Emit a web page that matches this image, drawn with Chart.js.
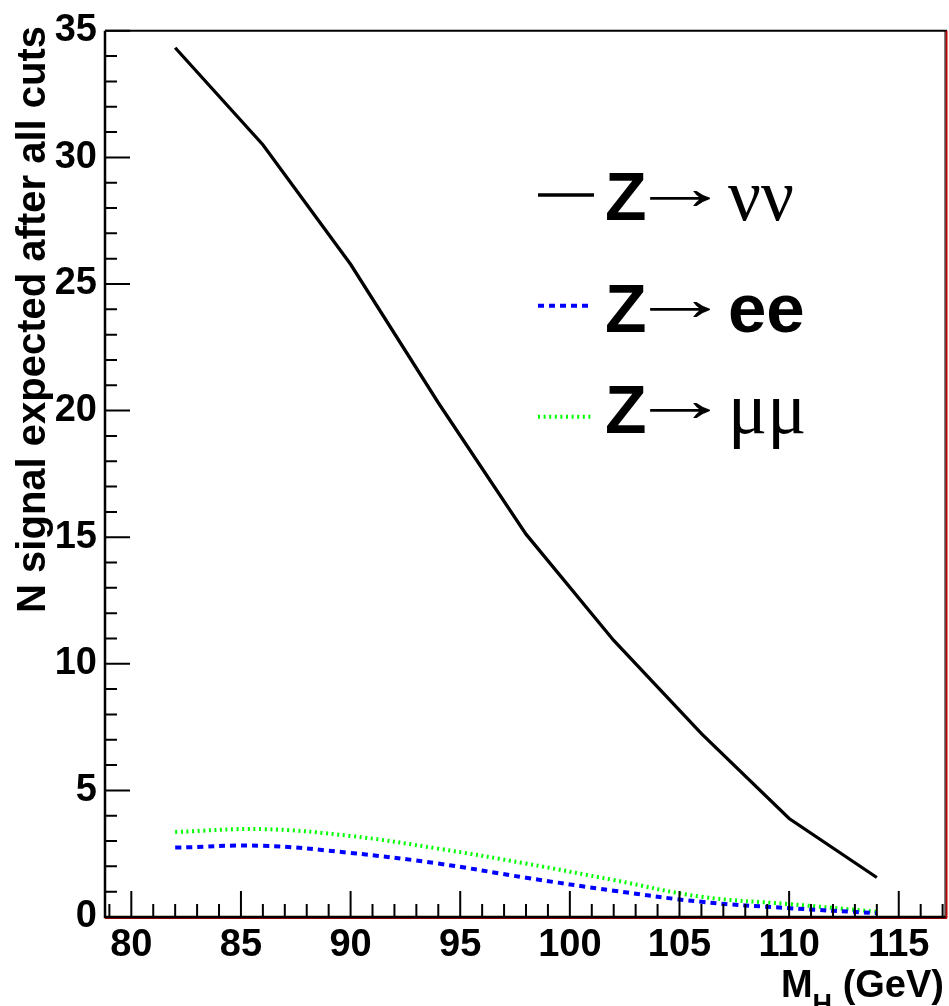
<!DOCTYPE html>
<html>
<head>
<meta charset="utf-8">
<script src="https://cdn.jsdelivr.net/npm/chart.js@4.4.0/dist/chart.umd.min.js"></script>
<style>
  html, body { margin: 0; padding: 0; background: #fff; }
  #wrap { width: 949px; height: 1006px; }
</style>
</head>
<body>
<div id="wrap"><canvas id="c" width="949" height="1006"></canvas></div>
<script>
// Higgs mass points (GeV)
const massPoints = [82, 86, 90, 94, 98, 102, 106, 110, 114];
// expected signal after all cuts
const nuNuVals = [34.33, 30.5, 25.78, 20.31, 15.12, 10.92, 7.24, 3.89, 1.56];
const eeVals   = [2.74, 2.81, 2.53, 2.11, 1.55, 1.04, 0.60, 0.35, 0.15];
const muMuVals = [3.36, 3.47, 3.20, 2.70, 2.11, 1.46, 0.80, 0.51, 0.21];

const xMin = 78.8, xMax = 117.2;
const yMin = 0, yMax = 35;

const legendDecays = ['νν', 'ee', 'μμ'];
const yTitle = 'N signal expected after all cuts';

const SANS = '"Liberation Sans", Arial, Helvetica, sans-serif';
const SERIF = '"Liberation Serif", "Times New Roman", serif';

function toPoints(vals) {
    return massPoints.map((m, i) => ({ x: m, y: vals[i] }));
}

function intTicks(scale) {
    const t = [];
    for (let v = Math.ceil(scale.min); v <= Math.floor(scale.max); v++) t.push({ value: v });
    scale.ticks = t;
}

// draws a glyph so that its ink box spans x0..x0+width, centred on cy
function fitGlyph(ctx, txt, x0, width, cy) {
    const m = ctx.measureText(txt);
    const inkW = m.actualBoundingBoxLeft + m.actualBoundingBoxRight;
    const mid = (m.actualBoundingBoxAscent - m.actualBoundingBoxDescent) / 2;
    ctx.save();
    ctx.translate(x0, cy);
    ctx.scale(width / inkW, 1);
    ctx.textAlign = 'left';
    ctx.textBaseline = 'alphabetic';
    ctx.fillText(txt, m.actualBoundingBoxLeft, mid);
    ctx.restore();
}

const rootFrame = {
    id: 'rootFrame',
    afterDraw(chart) {
        const ctx = chart.ctx;
        const a = chart.chartArea;
        const xs = chart.scales.x, ys = chart.scales.y;
        ctx.save();

        // frame
        ctx.lineWidth = 2;
        ctx.strokeStyle = '#000';
        ctx.beginPath();
        ctx.moveTo(a.left, a.top); ctx.lineTo(a.right, a.top);
        ctx.stroke();
        ctx.strokeStyle = '#c00000';
        ctx.beginPath();
        ctx.moveTo(a.right - 0.5, a.top); ctx.lineTo(a.right - 0.5, a.bottom + 1);
        ctx.moveTo(a.left, a.bottom + 1); ctx.lineTo(a.right, a.bottom + 1);
        ctx.stroke();
        ctx.strokeStyle = '#000';
        ctx.lineWidth = 1;
        ctx.beginPath();
        ctx.moveTo(a.right - 2, a.top); ctx.lineTo(a.right - 2, a.bottom);
        ctx.stroke();
        ctx.lineWidth = 2.5;
        ctx.beginPath();
        ctx.moveTo(a.left, a.top); ctx.lineTo(a.left, a.bottom);
        ctx.lineTo(a.right - 1.5, a.bottom);
        ctx.stroke();

        // inward ticks
        ctx.lineWidth = 2;
        ctx.beginPath();
        xs.ticks.forEach(t => {
            const px = xs.getPixelForValue(t.value);
            const len = t.value % 5 === 0 ? 26 : 13;
            ctx.moveTo(px, a.bottom); ctx.lineTo(px, a.bottom - len);
        });
        ys.ticks.forEach(t => {
            const py = ys.getPixelForValue(t.value);
            const len = t.value % 5 === 0 ? 25 : 12;
            ctx.moveTo(a.left, py); ctx.lineTo(a.left + len, py);
        });
        ctx.stroke();

        // y title (rotated, right aligned at top)
        ctx.fillStyle = '#000';
        ctx.font = 'bold 40px ' + SANS;
        ctx.save();
        ctx.translate(45, 26);
        ctx.rotate(-Math.PI / 2);
        ctx.textAlign = 'right';
        ctx.textBaseline = 'alphabetic';
        ctx.fillText(yTitle, 0, 0);
        ctx.restore();

        // x title  M_H (GeV), right aligned
        ctx.textBaseline = 'alphabetic';
        ctx.textAlign = 'left';
        const main = 'bold 38px ' + SANS, sub = 'bold 27px ' + SANS;
        ctx.font = main;
        const wGev = ctx.measureText(' (GeV)').width;
        const wM = ctx.measureText('M').width;
        ctx.font = sub;
        const wH = ctx.measureText('H').width;
        const xr = 944 - wGev;
        ctx.font = main;
        ctx.fillText(' (GeV)', xr, 997);
        ctx.font = sub;
        ctx.fillText('H', xr - wH, 1013);
        ctx.font = main;
        ctx.fillText('M', xr - wH - wM, 997);

        // legend
        const rows = [
            { base: 220, line: 195, arrow: 198 },
            { base: 331.7, line: 305.7, arrow: 309 },
            { base: 432.7, line: 416.7, arrow: 410 }
        ];
        chart.data.datasets.forEach((ds, i) => {
            const r = rows[i];
            ctx.save();
            ctx.strokeStyle = ds.borderColor;
            ctx.lineWidth = ds.borderWidth;
            ctx.setLineDash(ds.borderDash || []);
            ctx.beginPath();
            ctx.moveTo(538, r.line); ctx.lineTo(i === 1 ? 591 : 594, r.line);
            ctx.stroke();
            ctx.restore();

            ctx.fillStyle = '#000';
            ctx.textAlign = 'left';
            ctx.textBaseline = 'alphabetic';
            ctx.font = 'bold 68px ' + SANS;
            ctx.fillText('Z', 605, r.base);
            ctx.font = '64px ' + SERIF;
            fitGlyph(ctx, '→', 650, 60, r.arrow);
            if (legendDecays[i] === 'ee') {
                ctx.font = 'bold 69px ' + SANS;
            } else {
                ctx.font = '73px ' + SERIF;
            }
            ctx.fillText(legendDecays[i], 728, r.base);
        });

        ctx.restore();
    }
};

new Chart(document.getElementById('c'), {
    type: 'line',
    data: {
        datasets: [
            {
                label: 'Z→ νν',
                data: toPoints(nuNuVals),
                borderColor: '#000000',
                borderWidth: 3.3,
                tension: 0,
                pointRadius: 0,
                fill: false
            },
            {
                label: 'Z→ ee',
                data: toPoints(eeVals),
                borderColor: '#0000ff',
                borderWidth: 4,
                borderDash: [6, 5],
                tension: 0.4,
                pointRadius: 0,
                fill: false
            },
            {
                label: 'Z→ μμ',
                data: toPoints(muMuVals),
                borderColor: '#00ff00',
                borderWidth: 4,
                borderDash: [2, 3.6],
                tension: 0.4,
                pointRadius: 0,
                fill: false
            }
        ]
    },
    options: {
        responsive: false,
        animation: false,
        layout: { padding: { left: 0, right: 2, top: 29, bottom: 0 } },
        plugins: {
            legend: { display: false },
            tooltip: { enabled: false }
        },
        scales: {
            x: {
                type: 'linear',
                min: xMin,
                max: xMax,
                afterBuildTicks: intTicks,
                afterFit: s => { s.height = 89; },
                grid: { display: false, drawTicks: false },
                border: { display: false },
                ticks: {
                    autoSkip: false,
                    maxRotation: 0,
                    padding: 6,
                    color: '#000',
                    font: { family: SANS, size: 38, weight: 'bold' },
                    callback: v => (v % 5 === 0 ? String(v) : '')
                }
            },
            y: {
                type: 'linear',
                min: yMin,
                max: yMax,
                afterBuildTicks: intTicks,
                afterFit: s => { s.width = 105; },
                grid: { display: false, drawTicks: false },
                border: { display: false },
                ticks: {
                    autoSkip: false,
                    padding: 8,
                    color: '#000',
                    font: { family: SANS, size: 38, weight: 'bold' },
                    callback: v => (v % 5 === 0 ? String(v) : '')
                }
            }
        }
    },
    plugins: [rootFrame]
});
</script>
</body>
</html>
